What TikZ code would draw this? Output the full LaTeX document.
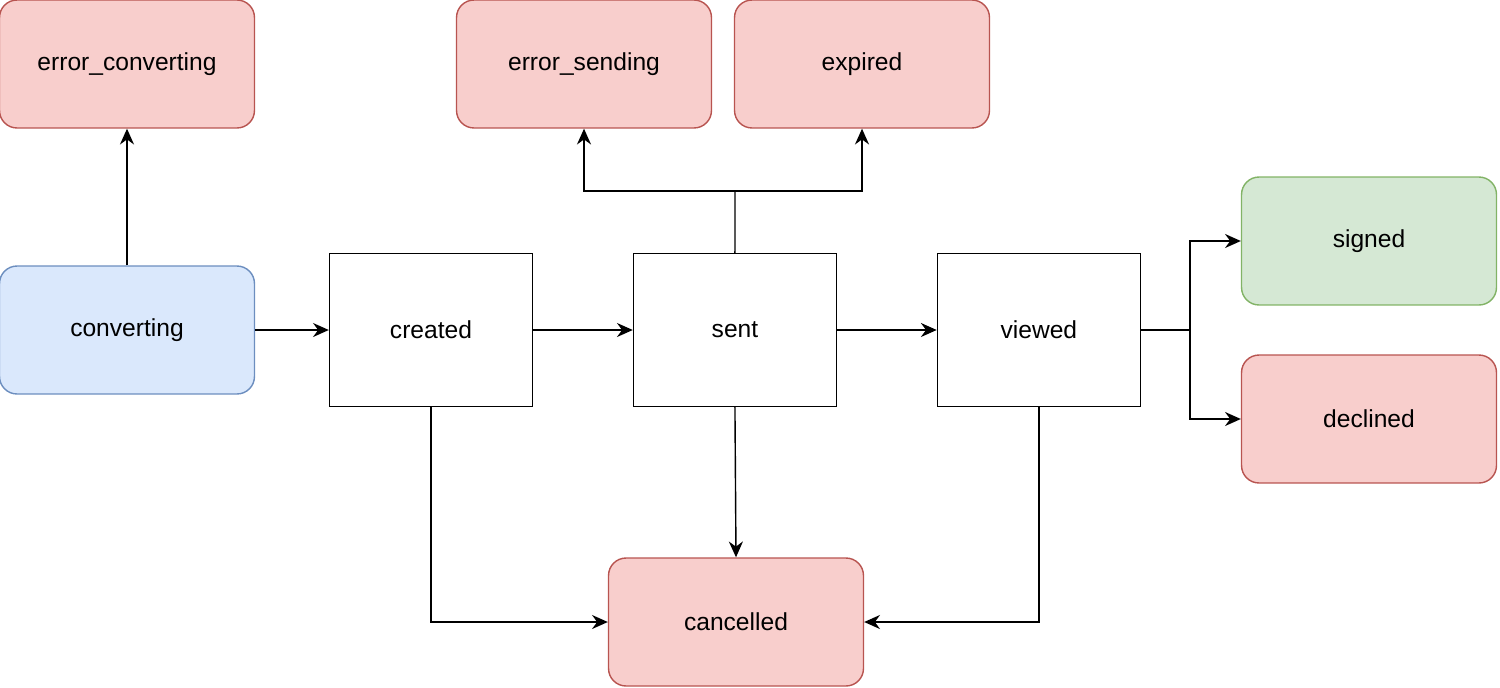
\documentclass[tikz,border=0pt]{standalone}
\usepackage{fontspec}
\setmainfont{Liberation Sans}
\usetikzlibrary{positioning,arrows.meta}
\definecolor{redfill}{HTML}{F8CECC}
\definecolor{redline}{HTML}{B85450}
\definecolor{bluefill}{HTML}{DAE8FC}
\definecolor{blueline}{HTML}{6C8EBF}
\definecolor{greenfill}{HTML}{D5E8D4}
\definecolor{greenline}{HTML}{82B366}
\begin{document}
\begin{tikzpicture}[x=0.02cm,y=-0.02cm,on grid,node distance=6.08cm,
  font=\fontsize{14}{16}\selectfont,
  state/.style={draw,line width=0.8pt,minimum width=4.06cm,minimum height=3.06cm},
  rstate/.style={draw,line width=0.8pt,rounded corners=0.35cm,minimum width=5.1cm,minimum height=2.56cm},
  bad/.style={rstate,fill=redfill,draw=redline},
  good/.style={rstate,fill=greenfill,draw=greenline},
  busy/.style={rstate,fill=bluefill,draw=blueline},
  >={Stealth[length=9pt,width=8pt]},every path/.style={line width=0.8pt}]
  \useasboundingbox (0,0) rectangle (1500,687);
  \node[busy] (CONV) at (127,330) {converting};
  \node[bad] (ERRC) at (127,64) {error\_converting};
  \node[state] (CRE) at (431,330) {created};
  \node[state] (SENT) [right=of CRE] {sent};
  \node[state] (VIEW) [right=of SENT] {viewed};
  \node[bad] (ERRS) at (584,64) {error\_sending};
  \node[bad] (EXP) at (862,64) {expired};
  \node[good] (SIGN) at (1369,241) {signed};
  \node[bad] (DECL) at (1369,419) {declined};
  \node[bad] (CANC) at (736,622) {cancelled};
  \coordinate (up) at (735,191);
  \coordinate (fork) at (1190,330);
  \draw[->] (CONV) -- (ERRC);
  \draw[->] (CONV) -- (CRE);
  \draw[->] (CRE) -- (SENT);
  \draw[->] (SENT) -- (VIEW);
  \draw (SENT.north) -- (up);
  \draw[->] (up) -| (ERRS.south);
  \draw[->] (up) -| (EXP.south);
  \draw (VIEW.east) -- (fork);
  \draw[->] (fork) |- (SIGN.west);
  \draw[->] (fork) |- (DECL.west);
  \draw[->] (CRE.south) |- (CANC.west);
  \draw[->] (SENT.south) -- (CANC.north);
  \draw[->] (VIEW.south) |- (CANC.east);
\end{tikzpicture}
\end{document}
